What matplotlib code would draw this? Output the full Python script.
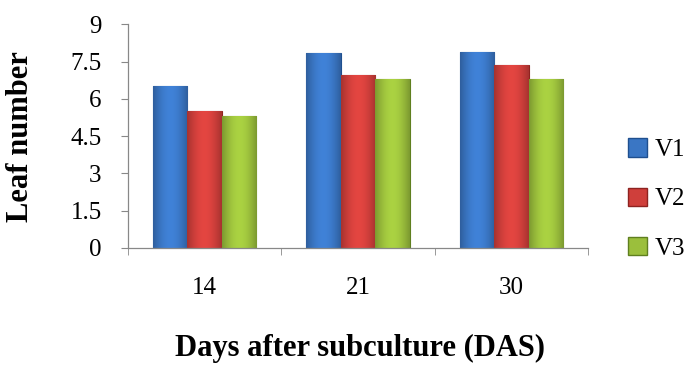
import matplotlib
matplotlib.use("Agg")
import matplotlib.pyplot as plt
import numpy as np
from matplotlib.colors import to_rgb
from matplotlib.patches import Patch

categories = ["14", "21", "30"]
series_names = ["V1", "V2", "V3"]
v1 = [6.5, 7.85, 7.9]
v2 = [5.5, 6.95, 7.35]
v3 = [5.3, 6.8, 6.8]
yticks = [0, 1.5, 3, 4.5, 6, 7.5, 9]
ytick_labels = ["0", "1.5", "3", "4.5", "6", "7.5", "9"]

colors = ["#3a76c4", "#cf3f3b", "#9bbf3c"]
edges = ["#1f4f8f", "#8e2320", "#5f7f1f"]

plt.rcParams["font.family"] = ["Liberation Serif", "DejaVu Serif"]

fig = plt.figure(figsize=(6.94, 3.65), dpi=100)
ax = fig.add_axes([128/694, 1-248/365, (588-128)/694, (248-24.3)/365])

x = np.arange(len(categories))
w = 0.225
series = [v1, v2, v3]
handles = []
for i, (vals, c, ec) in enumerate(zip(series, colors, edges)):
    bars = ax.bar(x + (i-1)*w, vals, width=w, color=c, edgecolor=ec, linewidth=0.8, zorder=2)
    base = np.array(to_rgb(c))
    t = np.linspace(0, 1, 64)
    shade = 0.75 + 0.35*np.sin(np.pi*(t*0.9+0.05))
    grad = np.clip(base[None, :]*shade[:, None], 0, 1)[None, :, :]
    for b in bars:
        bx, by = b.get_x(), b.get_y()
        bw, bh = b.get_width(), b.get_height()
        im = ax.imshow(grad, extent=[bx, bx+bw, by, by+bh], aspect="auto", zorder=2.5, interpolation="bilinear")
        im.set_clip_path(b)
    handles.append(Patch(facecolor=c, edgecolor=ec, label=series_names[i]))

ax.set_xlim(-0.5, len(categories)-0.5)
ax.set_ylim(0, 9)
ax.set_yticks(yticks)
ax.set_yticklabels(ytick_labels)
ax.set_xticks(x)
ax.set_xticklabels(categories)
ax.set_xticks(np.arange(len(categories)+1)-0.5, minor=True)
ax.tick_params(axis="x", which="major", length=0, pad=21, labelsize=18)
ax.tick_params(axis="x", which="minor", length=5, color="#888888", direction="out")
ax.tick_params(axis="y", length=5, color="#888888", labelsize=18, pad=14)
for s in ["top", "right"]:
    ax.spines[s].set_visible(False)
for s in ["left", "bottom"]:
    ax.spines[s].set_color("#888888")
    ax.spines[s].set_linewidth(0.9)

ax.set_ylabel("Leaf number", fontsize=22, fontweight="bold", va="center")
ax.yaxis.set_label_coords(-(128-21)/460, 0.5)
ax.set_xlabel("Days after subculture (DAS)", fontsize=22, fontweight="bold", va="center")
ax.xaxis.set_label_coords(0.5 + 2/460, -(348-248)/223.7)

fig.legend(handles=handles, loc="center left", bbox_to_anchor=(628/694, 1-199/365),
           frameon=False, fontsize=18, handlelength=0.75, handleheight=0.75,
           handletextpad=0.3, labelspacing=1.05, borderaxespad=0, borderpad=0)

fig.savefig("out.png", dpi=100)
